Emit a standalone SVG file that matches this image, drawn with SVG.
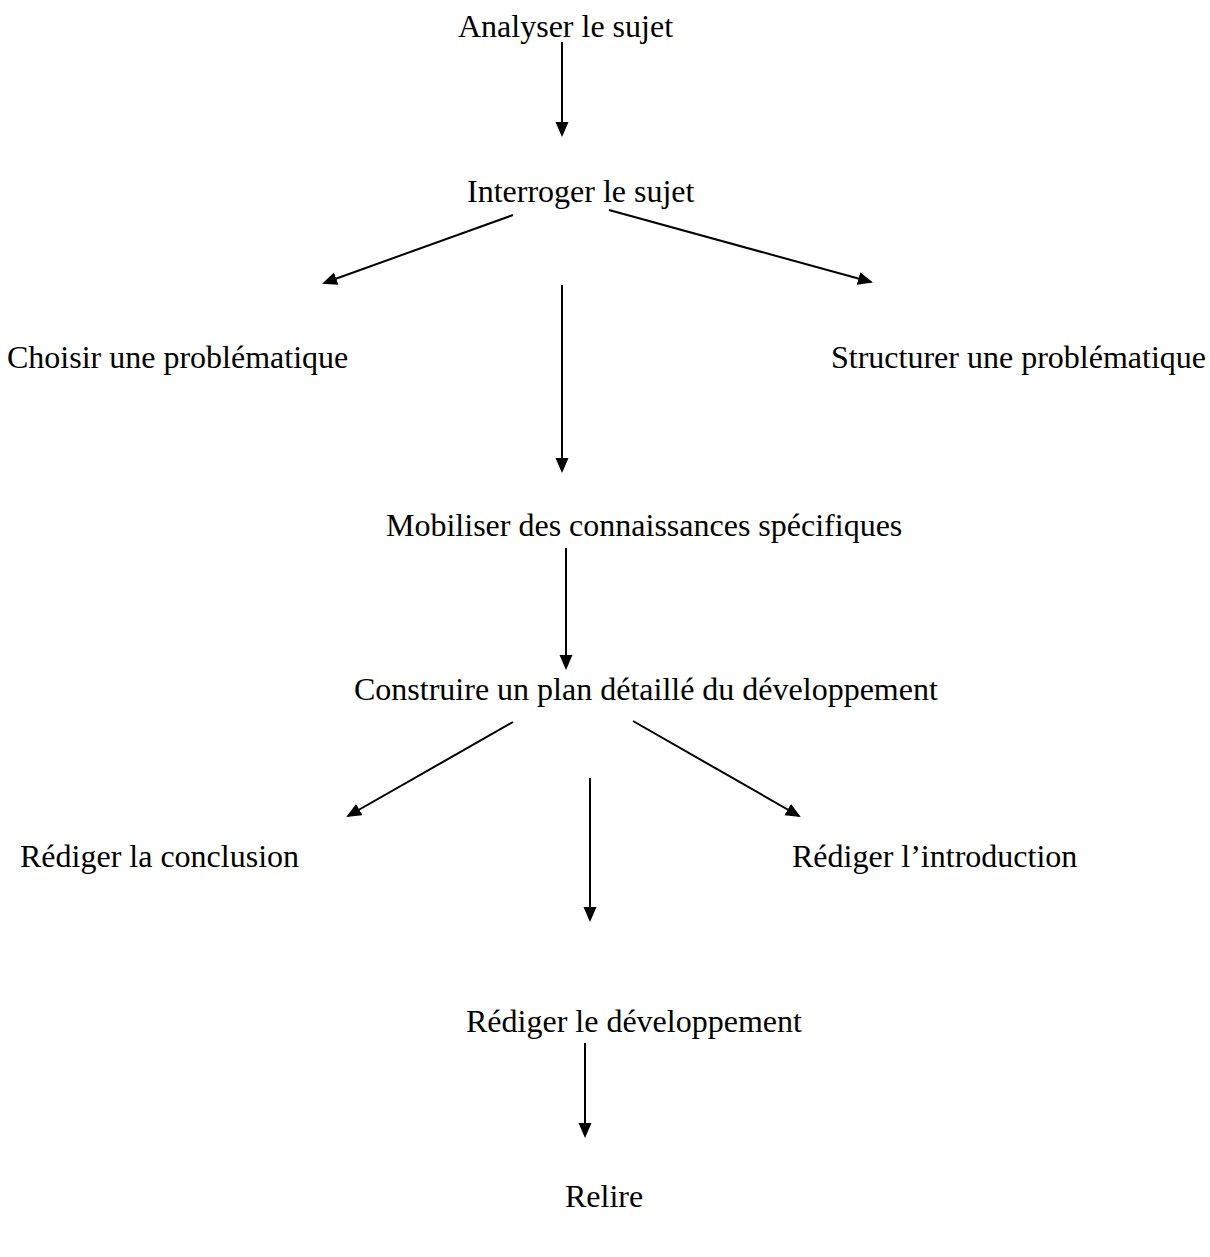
<svg xmlns="http://www.w3.org/2000/svg" width="1210" height="1257" viewBox="0 0 1210 1257">
<style>
.t{font-family:"Liberation Serif","Times New Roman",serif;font-size:32px;fill:#000}
.c{stroke:#000;stroke-width:2;fill:none;marker-end:url(#ah)}
</style>
<defs>
<marker id="ah" markerUnits="userSpaceOnUse" markerWidth="16" markerHeight="14" refX="13" refY="6.5" orient="auto">
<path d="M0,0 L15,6.5 L0,13 z" fill="#000"/>
</marker>
</defs>
<rect width="1210" height="1257" fill="#fff"/>
<g id="connectors">
<line class="c" x1="562" y1="42" x2="562" y2="135"/>
<line class="c" x1="513" y1="215" x2="324" y2="283"/>
<line class="c" x1="609" y1="210" x2="871" y2="282"/>
<line class="c" x1="562" y1="285" x2="562" y2="471"/>
<line class="c" x1="566" y1="548" x2="566" y2="668"/>
<line class="c" x1="513" y1="722" x2="348" y2="816"/>
<line class="c" x1="633" y1="721" x2="799" y2="816"/>
<line class="c" x1="590" y1="778" x2="590" y2="920"/>
<line class="c" x1="585" y1="1043" x2="585" y2="1136"/>
</g>
<g id="n1"><text class="t" x="458" y="37">Analyser le sujet</text></g>
<g id="n2"><text class="t" x="467" y="202">Interroger le sujet</text></g>
<g id="n3"><text class="t" x="7" y="368">Choisir une problématique</text></g>
<g id="n4"><text class="t" x="831" y="368">Structurer une problématique</text></g>
<g id="n5"><text class="t" x="386" y="536">Mobiliser des connaissances spécifiques</text></g>
<g id="n6"><text class="t" x="354" y="700">Construire un plan détaillé du développement</text></g>
<g id="n7"><text class="t" x="20" y="867">Rédiger la conclusion</text></g>
<g id="n8"><text class="t" x="792" y="867">Rédiger l’introduction</text></g>
<g id="n9"><text class="t" x="466" y="1032">Rédiger le développement</text></g>
<g id="n10"><text class="t" x="565" y="1207">Relire</text></g>
</svg>
